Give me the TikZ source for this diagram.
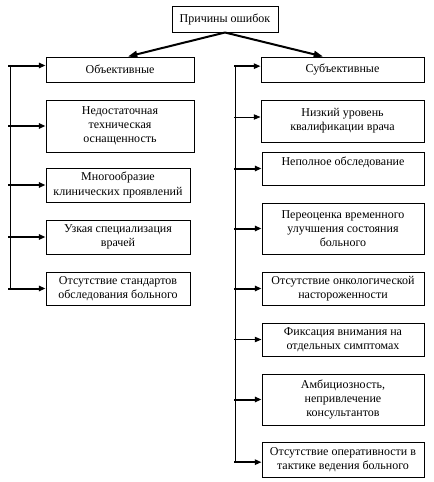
\documentclass[tikz,border=0pt]{standalone}
\usepackage{fontspec}
\setmainfont{Liberation Serif}
\usetikzlibrary{arrows.meta,calc}
\tikzset{
  box/.style={draw, line width=0.75pt, inner sep=0pt, align=center,
    font=\fontsize{9}{10.6}\selectfont},
  sz/.style 2 args={minimum width=#1*0.75pt, minimum height=#2*0.75pt},
  thickarrow/.style={line width=1.5pt, -{Triangle[length=5pt,width=4pt]}},
  thinarrow/.style={line width=0.75pt, -{Triangle[length=5pt,width=4pt]}},
  vline/.style={line width=0.75pt}
}
\begin{document}
\begin{tikzpicture}[x=0.75pt,y=-0.75pt]
\useasboundingbox[fill=white] (0,0) rectangle (433,482);
\node[box,sz={106}{26}] (top) at (225,19) {Причины ошибок};
\node[box,sz={148}{25}] (obj) at (120,69.5) {Объективные};
\node[box,sz={163}{25}] (subj) at (342.5,69.5) {Субъективные};

\node[box,sz={148}{52}] (l1) at (120,126) {Недостаточная\\техническая\\оснащенность};
\node[box,sz={144}{34}] (l2) at (118,185) {Многообразие\\клинических проявлений};
\node[box,sz={144}{34}] (l3) at (118,237) {Узкая специализация\\врачей};
\node[box,sz={144}{33}] (l4) at (118,288.5) {Отсутствие стандартов\\обследования больного};

\node[box,sz={163}{42}] (r1) at (342.5,121) {Низкий уровень\\квалификации врача};
\node[box,sz={162}{33}] (r2) at (343,168.5) {Неполное обследование\\\mbox{}};
\node[box,sz={162}{51}] (r3) at (343,228.5) {Переоценка временного\\улучшения состояния\\больного};
\node[box,sz={162}{33}] (r4) at (343,288.5) {Отсутствие онкологической\\настороженности};
\node[box,sz={162}{33}] (r5) at (343,339.5) {Фиксация внимания на\\отдельных симптомах};
\node[box,sz={162}{51}] (r6) at (343,399.5) {Амбициозность,\\непривлечение\\консультантов};
\node[box,sz={162}{35}] (r7) at (343,459.5) {Отсутствие оперативности в\\тактике ведения больного};

\coordinate (lx) at (10,0);
\coordinate (lxs) at (8,0);
\coordinate (rx) at (235,0);
\coordinate (rxs) at (234,0);

% top arrows
\draw[line width=1.5pt,-{Triangle[length=7pt,width=5pt]}] (top.south) -- ($(obj.north)+(8,0)$);
\draw[line width=1.5pt,-{Triangle[length=7pt,width=5pt]}] (top.south) -- ($(subj.north)+(-19.5,0)$);

% left column
\coordinate (ob) at ([yshift=3pt]obj.west);
\draw[vline] (lx |- ob) -- (lx |- l4.west);
\draw[thickarrow] (lxs |- ob) -- (ob);
\draw[thickarrow] (lxs |- l1.west) -- (l1.west);
\draw[thickarrow] (lxs |- l2.west) -- (l2.west);
\draw[thickarrow] (lxs |- l3.west) -- (l3.west);
\draw[thickarrow] (lxs |- l4.west) -- (l4.west);

% right column
\coordinate (sb) at ([yshift=2.5pt]subj.west);
\coordinate (r1w) at ([yshift=3pt]r1.west);
\coordinate (r7w) at ([yshift=-2pt]r7.west);
\draw[vline] (rx |- sb) -- (rx |- r7w);
\draw[thickarrow] (rxs |- sb) -- (sb);
\draw[thinarrow] (rxs |- r1w) -- (r1w);
\draw[thickarrow] (rxs |- r2.west) -- (r2.west);
\draw[thickarrow] (rxs |- r3.west) -- (r3.west);
\draw[thickarrow] (rxs |- r4.west) -- (r4.west);
\draw[thinarrow] (rxs |- r5.west) -- (r5.west);
\draw[thickarrow] (rxs |- r6.west) -- (r6.west);
\draw[thickarrow] (rxs |- r7w) -- (r7w);
\end{tikzpicture}
\end{document}
